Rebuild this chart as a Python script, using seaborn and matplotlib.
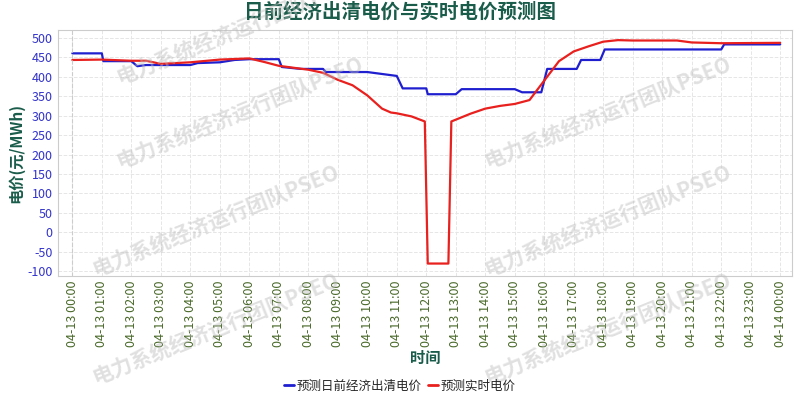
import matplotlib
matplotlib.use("Agg")
import matplotlib.pyplot as plt
import seaborn as sns
import pandas as pd

sns.set_style("white")
plt.rcParams['font.family'] = ['Noto Sans CJK SC', 'DejaVu Sans']
plt.rcParams['axes.unicode_minus'] = False

da_hours = [0, 1, 1.05, 2, 2.2, 2.5, 4, 4.25, 5, 5.5, 6, 7, 7.1, 7.75, 8.5, 8.6, 10, 11, 11.2, 12, 12.05, 13, 13.2, 15, 15.25, 15.9, 16.1, 17.1, 17.25, 17.9, 18.05, 22, 22.1, 24]
da_vals = [460, 460, 440, 440, 427, 430, 430, 435, 437, 443, 445, 445, 425, 420, 420, 412, 412, 402, 370, 370, 355, 355, 368, 368, 360, 360, 420, 420, 443, 443, 470, 470, 483, 483]
rt_hours = [0, 1, 2, 2.5, 3, 4, 5, 6, 6.5, 7, 8, 8.5, 9, 9.5, 10, 10.5, 10.8, 11, 11.5, 11.95, 12.05, 12.75, 12.85, 13.5, 14, 14.5, 15, 15.5, 16, 16.5, 17, 17.5, 18, 18.5, 19, 20.5, 21, 22, 24]
rt_vals = [443, 444, 441, 441, 433, 437, 444, 447, 438, 428, 418, 410, 392, 378, 352, 318, 308, 306, 298, 285, -80, -80, 285, 305, 318, 325, 330, 340, 390, 440, 465, 478, 490, 494, 493, 493, 488, 486, 487]
x_tick_labels = [f"04-13 {h:02d}:00" for h in range(24)] + ["04-14 00:00"]

df = pd.concat([
    pd.DataFrame({"h": da_hours, "v": da_vals, "s": "预测日前经济出清电价"}),
    pd.DataFrame({"h": rt_hours, "v": rt_vals, "s": "预测实时电价"}),
])

fig = plt.figure(figsize=(8, 4), dpi=100)
ax = fig.add_axes([0.072, 0.31, 0.918, 0.615])
sns.lineplot(data=df, x="h", y="v", hue="s", palette={"预测日前经济出清电价": "#1f1fd0", "预测实时电价": "#e8201e"},
             ax=ax, linewidth=1.6, legend=False, estimator=None, sort=False)
ax.set_xlim(-0.5, 24.4)
ax.set_ylim(-112, 520)
ax.set_xticks(range(25))
ax.set_xticklabels(x_tick_labels, rotation=90, color="#4a6a2a", fontsize=9)
ax.set_yticks(range(-100, 501, 50))
ax.tick_params(axis='y', colors="#3333cc", labelsize=9, length=0)
ax.tick_params(axis='x', length=0)
ax.grid(True, color="#e6e6e6", linestyle="--", linewidth=0.7)
ax.axvline(0, color="#cccccc", linestyle="--", linewidth=0.8)
for s in ax.spines.values():
    s.set_color("#cccccc")
ax.set_xlabel("时间", color="#1a5c4a", fontsize=11, fontweight="bold", labelpad=2)
ax.set_ylabel("电价(元/MWh)", color="#1a5c4a", fontsize=11, fontweight="bold", labelpad=2)
fig.suptitle("日前经济出清电价与实时电价预测图", color="#1a5c4a", fontsize=14, fontweight="bold", y=0.995)

from matplotlib.lines import Line2D
handles = [Line2D([], [], color="#1f1fd0", lw=2), Line2D([], [], color="#e8201e", lw=2)]
fig.legend(handles, ["预测日前经济出清电价", "预测实时电价"], loc="lower center", ncol=2, frameon=False,
           fontsize=9, bbox_to_anchor=(0.5, -0.01), handlelength=0.8, handletextpad=0.2, columnspacing=0.5)

for (x, y) in [(0.3, 0.93), (0.3, 0.72), (0.76, 0.72), (0.27, 0.45), (0.76, 0.45), (0.27, 0.18), (0.76, 0.18)]:
    fig.text(x, y, "电力系统经济运行团队PSEO", rotation=22, color="#bbbbbb", alpha=0.45,
             fontsize=15, fontweight="bold", ha="center", va="center")

fig.savefig("out.png", dpi=100)
